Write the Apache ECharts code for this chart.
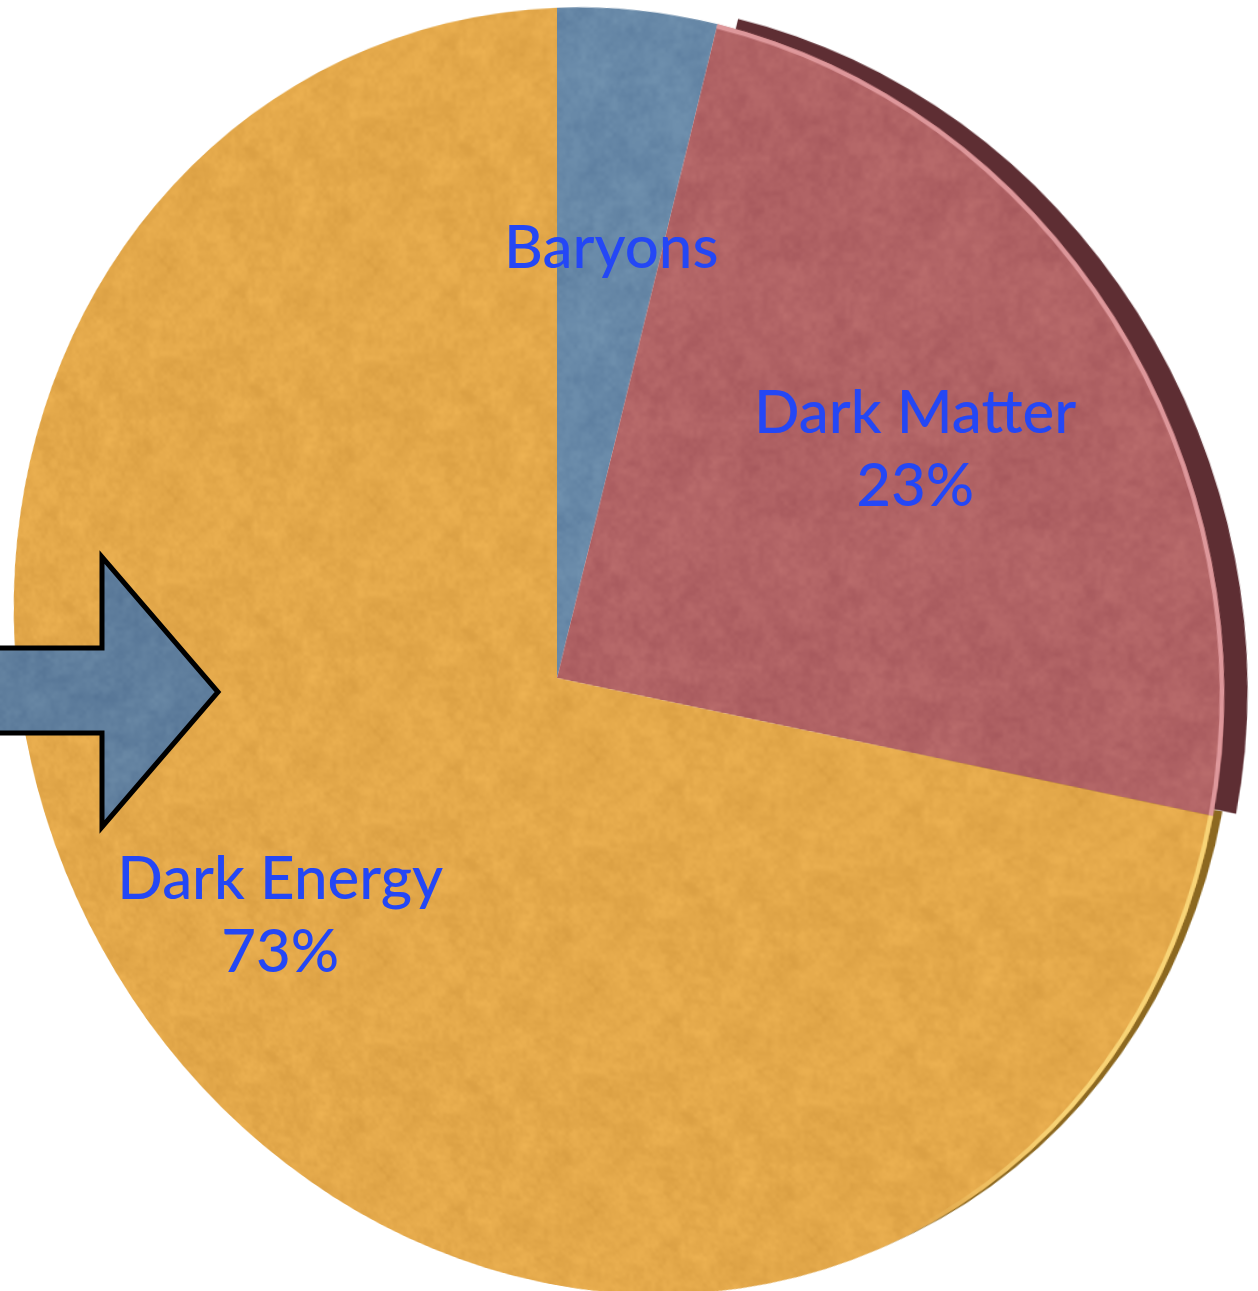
<!DOCTYPE html>
<html>
<head>
<meta charset="utf-8">
<script src="https://cdn.jsdelivr.net/npm/echarts@6/dist/echarts.min.js"></script>
<style>
  html, body { margin: 0; padding: 0; background: #ffffff; overflow: hidden; }
  #stage { position: relative; width: 1258px; height: 1291px; overflow: hidden; }
  /* the disc is drawn flat, then tilted in 3D around its own centre */
  #disc {
    position: absolute; left: -200px; top: -100px; width: 1700px; height: 1600px;
    transform-origin: 757px 778px;
    transform: perspective(2393px) rotateX(-10.5deg) rotateY(-22.6deg);
  }
  #labels { position: absolute; left: 0; top: 0; width: 1258px; height: 1291px; }
</style>
</head>
<body>
<div id="stage">
  <div id="disc"></div>
  <div id="labels"></div>
</div>
<script>
// Composition of the universe (percent of total energy density)
const categories = ['Baryons', 'Dark Matter', 'Dark Energy'];
const shares = [4, 23, 73];
const showPercent = [false, true, true];

const faceColors = ['#6889A8', '#B06264', '#E3A84A'];
const textBlue = '#2447F5';

// Felt-like fabric texture: seamless value noise in a few octaves (deterministic LCG)
function felt(hex, seed) {
  const S = 240;
  let s = seed >>> 0;
  const rnd = () => { s = (Math.imul(s, 1664525) + 1013904223) >>> 0; return s / 4294967296; };
  const octaves = [[6, 3], [12, 4], [30, 4], [60, 3]];
  const grids = octaves.map(([N]) => Array.from({ length: N * N }, () => rnd() * 2 - 1));
  const smooth = t => t * t * (3 - 2 * t);
  const c = document.createElement('canvas');
  c.width = c.height = S;
  const g = c.getContext('2d');
  const img = g.createImageData(S, S);
  const r0 = parseInt(hex.slice(1, 3), 16), g0 = parseInt(hex.slice(3, 5), 16), b0 = parseInt(hex.slice(5, 7), 16);
  for (let y = 0; y < S; y++) {
    for (let x = 0; x < S; x++) {
      let v = 0;
      octaves.forEach(([N, amp], k) => {
        const gx = x / S * N, gy = y / S * N;
        const ix = Math.floor(gx), iy = Math.floor(gy);
        const fx = smooth(gx - ix), fy = smooth(gy - iy);
        const x1 = (ix + 1) % N, y1 = (iy + 1) % N;
        const G = grids[k];
        const a = G[iy * N + ix], b = G[iy * N + x1], cc = G[y1 * N + ix], d = G[y1 * N + x1];
        v += amp * ((a * (1 - fx) + b * fx) * (1 - fy) + (cc * (1 - fx) + d * fx) * fy);
      });
      const p = (y * S + x) * 4;
      img.data[p] = r0 + v; img.data[p + 1] = g0 + v; img.data[p + 2] = b0 + v * 0.8;
      img.data[p + 3] = 255;
    }
  }
  g.putImageData(img, 0, 0);
  return { image: c, repeat: 'repeat' };
}

const CX = 757, CY = 778, R = 648;

const faceData = categories.map((name, i) => ({
  name, value: shares[i], itemStyle: { color: felt(faceColors[i], 11 + i * 97) }
}));

function fadeRight(rgb, from, to, alpha) {
  return {
    type: 'linear', x: 0, y: 0, x2: 1, y2: 0,
    colorStops: [
      { offset: 0, color: 'rgba(' + rgb + ',0)' },
      { offset: from, color: 'rgba(' + rgb + ',0)' },
      { offset: to, color: 'rgba(' + rgb + ',' + alpha + ')' },
      { offset: 1, color: 'rgba(' + rgb + ',' + alpha + ')' }
    ]
  };
}

// side wall of the disc, seen past the right-hand edge
function rimData(idx, color) {
  return categories.map((name, i) => ({
    name, value: shares[i],
    itemStyle: { color: i === idx ? color : 'rgba(0,0,0,0)' }
  }));
}

const glowData = categories.map((name, i) => ({
  name, value: shares[i],
  itemStyle: {
    color: i === 0 ? 'rgba(0,0,0,0)'
      : i === 1 ? 'rgba(236,168,172,0.75)'
      : fadeRight('250,216,122', 0.8, 0.9, 0.9)
  }
}));

const pieBase = {
  type: 'pie', startAngle: 90, clockwise: true, silent: true,
  label: { show: false }, labelLine: { show: false },
  emphasis: { disabled: true }, animation: false
};

const disc = echarts.init(document.getElementById('disc'), null, { renderer: 'canvas' });
disc.setOption({
  animation: false,
  series: [
    Object.assign({}, pieBase, {
      center: [CX + 8, CY - 5], radius: [0, R],
      data: rimData(2, fadeRight('140,104,32', 0.72, 0.82, 1)), itemStyle: { borderWidth: 0 }
    }),
    Object.assign({}, pieBase, {
      center: [CX + 20, CY - 4], radius: [0, R],
      data: rimData(1, '#5E2E33'), itemStyle: { borderWidth: 0 }
    }),
    Object.assign({}, pieBase, {
      center: [CX, CY], radius: [0, R],
      data: faceData, itemStyle: { borderWidth: 0 }
    }),
    Object.assign({}, pieBase, {
      center: [CX, CY], radius: [R - 4, R],
      data: glowData, itemStyle: { borderWidth: 0 }
    })
  ]
});

// Flat text labels and the pointer arrow, drawn over the tilted disc
const LX = 557, LY = 678;
const labelNudge = [0, 16, -6];
const labelText = {
  show: true, position: 'inside', color: textBlue,
  fontFamily: 'Lato', fontWeight: 500, fontSize: 60, lineHeight: 73,
  formatter: p => showPercent[p.dataIndex] ? p.name + '\n' + p.percent + '%' : p.name
};

function labelData(which) {
  return categories.map((name, i) => ({
    name, value: shares[i],
    itemStyle: { color: 'rgba(0,0,0,0)' },
    label: { show: which.indexOf(i) >= 0 }
  }));
}

const labels = echarts.init(document.getElementById('labels'), null, { renderer: 'canvas' });
labels.setOption({
  animation: false,
  series: [
    Object.assign({}, pieBase, {
      center: [LX, LY], radius: [0, 860], percentPrecision: 0,
      label: labelText, data: labelData([0, 1]), itemStyle: { borderWidth: 0 },
      labelLayout: p => ({ dy: labelNudge[p.dataIndex] })
    }),
    Object.assign({}, pieBase, {
      center: [LX, LY], radius: [0, 732], percentPrecision: 0,
      label: labelText, data: labelData([2]), itemStyle: { borderWidth: 0 },
      labelLayout: p => ({ dy: labelNudge[p.dataIndex] })
    })
  ],
  graphic: [{
    type: 'polygon', z: 100,
    shape: { points: [[-10, 648], [102, 648], [102, 557], [218, 692], [102, 827], [102, 733], [-10, 733]] },
    style: { fill: felt('#5F7E9D', 5), stroke: '#000000', lineWidth: 5, lineJoin: 'miter' }
  }]
});
</script>
</body>
</html>
